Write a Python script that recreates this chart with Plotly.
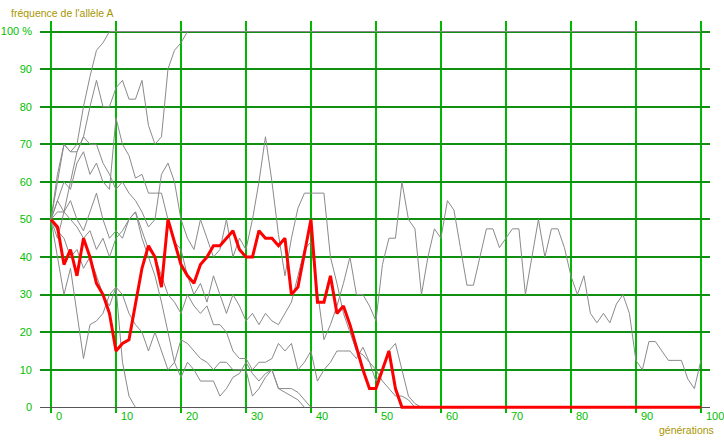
import plotly.graph_objects as go

# ---------------- data ----------------
x_ticks = [0, 10, 20, 30, 40, 50, 60, 70, 80, 90, 100]
x_tick_labels = ["0", "10", "20", "30", "40", "50", "60", "70", "80", "90", "100"]
y_ticks = [0, 10, 20, 30, 40, 50, 60, 70, 80, 90, 100]
y_tick_labels = ["0", "10", "20", "30", "40", "50", "60", "70", "80", "90", "100 %"]
y_title = "fréquence de l'allèle A"
x_title = "générations"

# highlighted population (values per generation starting at 0)
red_values = [50, 48, 38, 42, 35, 45, 40, 33, 30, 25, 15, 17, 18, 27, 37, 43, 40, 32, 50, 44,
              38, 35, 33, 38, 40, 43, 43, 45, 47, 42, 40, 40, 47, 45, 45, 43, 45, 30, 32, 41,
              50, 28, 28, 35, 25, 27, 22, 16, 10, 5, 5, 10, 15, 5, 0]
red_last = (100, 0)

# other populations (values per generation starting at 0)
gray1_values = [50, 60, 70, 68, 70, 80, 88, 95, 97, 100]
gray1_last = (100, 100)
gray2_values = [50, 55, 52, 60, 68, 72, 80, 87, 80, 80, 85, 87, 82, 82, 87, 75, 70, 72, 90, 95,
                97, 100]
gray2_last = (100, 100)
gray3_values = [50, 40, 30, 37, 25, 13, 22, 23, 25, 30, 32, 12, 3, 0]
gray4_values = [50, 47, 45, 40, 42, 37, 40, 35, 30, 27, 32, 30, 25, 22, 20, 15, 20, 15, 10, 12,
                8, 12, 10, 7, 7, 7, 3, 5, 8, 9, 12, 9, 7, 9, 10, 5, 4, 3, 2, 0]
gray5_values = [50, 45, 52, 55, 50, 47, 52, 57, 50, 45, 47, 45, 50, 52, 45, 40, 35, 28, 20, 12,
                18, 17, 15, 13, 12, 10, 12, 12, 10, 10, 10, 3, 5, 8, 10, 5, 5, 5, 4, 2, 0]
gray6_values = [50, 52, 52, 50, 48, 45, 47, 42, 45, 40, 45, 47, 50, 52, 47, 42, 40, 35, 30, 28,
                25, 30, 27, 25, 27, 22, 22, 20, 15, 13, 13, 10, 12, 12, 13, 17, 15, 17, 10, 12,
                15, 7, 10, 12, 15, 15, 15, 13, 16, 12, 10, 7, 5, 3, 3, 2, 0]
gray7_values = [50, 62, 70, 68, 68, 72, 70, 70, 65, 62, 58, 60, 57, 55, 52, 48, 50, 62, 65, 60,
                50, 45, 42, 50, 45, 40, 42, 50, 40, 45, 42, 50, 60, 72, 60, 46, 35, 45, 53, 57,
                57, 57, 57, 40, 33, 25, 20, 15, 14, 12, 7, 10, 15, 17, 10, 3, 1, 0]
gray8_values = [50, 55, 60, 58, 65, 68, 62, 65, 60, 58, 77, 70, 67, 61, 62, 57, 57, 57, 50, 44,
                42, 35, 30, 33, 28, 35, 30, 25, 30, 27, 23, 25, 22, 25, 23, 22, 25, 28, 35, 42,
                44, 31, 18, 22, 27, 33, 40, 30, 30, 27, 23, 38, 45, 45, 60, 50, 47.5, 30, 40, 47.5,
                45, 55, 52.5, 42.5, 32.5, 32.5, 40, 47.5, 47.5, 42.5, 45, 47.5, 47.5, 30, 40, 50, 40, 47.5, 47.5, 42.5,
                35, 30, 35, 25, 22.5, 25, 22.5, 27.5, 30, 25, 12.5, 10, 17.5, 17.5, 15, 12.5, 12.5, 12.5, 7.5, 5,
                12.5]

gray_series = [
    (gray1_values, gray1_last),
    (gray2_values, gray2_last),
    (gray3_values, None),
    (gray4_values, None),
    (gray5_values, None),
    (gray6_values, None),
    (gray7_values, None),
    (gray8_values, None),
]


def series_xy(values, last):
    xs = list(range(len(values)))
    ys = list(values)
    if last is not None:
        xs.append(last[0])
        ys.append(last[1])
    return xs, ys


fig = go.Figure()
for vals, last in gray_series:
    xs, ys = series_xy(vals, last)
    fig.add_trace(go.Scatter(x=xs, y=ys, mode="lines",
                             line=dict(color="#8a8a8a", width=1),
                             hoverinfo="skip", showlegend=False))

rx, ry = series_xy(red_values, red_last)
fig.add_trace(go.Scatter(x=rx, y=ry, mode="lines",
                         line=dict(color="#ff0000", width=3),
                         hoverinfo="skip", showlegend=False))

label_font = dict(family="Liberation Sans, Arial, sans-serif", size=11, color="#00c000")
title_font = dict(family="Liberation Sans, Arial, sans-serif", size=10.5, color="#a89600")

annotations = []
for v, t in zip(x_ticks, x_tick_labels):
    annotations.append(dict(x=v, y=0, xref="x", yref="paper", text=t, showarrow=False,
                            xanchor="left", yanchor="middle", xshift=3, yshift=-2.5,
                            font=label_font))
annotations.append(dict(x=-0.046, y=1.0204, xref="paper", yref="paper", text=y_title,
                        showarrow=False, xanchor="left", yanchor="middle", font=title_font))
annotations.append(dict(x=0.921, y=-0.0434, xref="paper", yref="paper", text=x_title,
                        showarrow=False, xanchor="left", yanchor="middle", font=title_font))

fig.update_layout(
    width=724, height=440,
    margin=dict(l=40, r=14, t=21, b=27, autoexpand=False),
    paper_bgcolor="white", plot_bgcolor="white",
    showlegend=False,
    hovermode=False,
    xaxis=dict(range=[-1.69, 101.4], tickvals=x_ticks, showticklabels=False,
               showgrid=True, gridcolor="#00b800", gridwidth=2, automargin=False,
               zeroline=False, showline=False, ticks=""),
    yaxis=dict(range=[-1.5, 102.8], tickvals=y_ticks, ticktext=y_tick_labels,
               tickfont=label_font, showgrid=True, gridcolor="#109010", gridwidth=2,
               zeroline=True, zerolinecolor="#555555", zerolinewidth=1, automargin=False,
               showline=False, ticks="", ticklabelstandoff=7),
    annotations=annotations,
)

fig.write_html("out.html", config={"displayModeBar": False},
               post_script="document.body.style.margin='0';document.body.style.overflow='hidden';")
